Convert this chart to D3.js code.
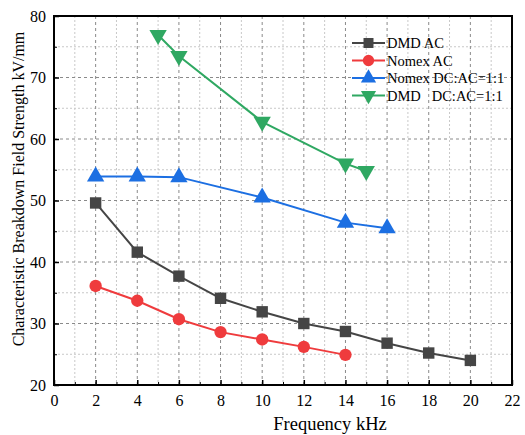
<!DOCTYPE html>
<html>
<head>
<meta charset="utf-8">
<script src="https://cdn.jsdelivr.net/npm/d3@7"></script>
<style>
  body { margin: 0; background: #fff; }
  text { font-family: "Liberation Serif", "Times New Roman", serif; fill: #000; }
</style>
</head>
<body>
<svg id="chart" width="525" height="435"></svg>
<script>
// data
var freqDmdAc = [2, 4, 6, 8, 10, 12, 14, 16, 18, 20];
var dmdAc = [49.6, 41.6, 37.7, 34.1, 31.9, 30.0, 28.7, 26.8, 25.2, 24.0];

var freqNomexAc = [2, 4, 6, 8, 10, 12, 14];
var nomexAc = [36.1, 33.7, 30.7, 28.6, 27.4, 26.2, 24.9];

var freqNomexDc = [2, 4, 6, 10, 14, 16];
var nomexDc = [53.9, 53.9, 53.8, 50.5, 46.4, 45.5];

var freqDmdDc = [5, 6, 10, 14, 15];
var dmdDc = [76.9, 73.5, 62.8, 56.0, 54.8];

var seriesNames = ["DMD AC", "Nomex AC", "Nomex DC:AC=1:1", "DMD   DC:AC=1:1"];
var xTicks = [0, 2, 4, 6, 8, 10, 12, 14, 16, 18, 20, 22];
var yTicks = [20, 30, 40, 50, 60, 70, 80];

var series = [
  { name: seriesNames[0], xs: freqDmdAc, ys: dmdAc, color: "#454545", sym: d3.symbolSquare, rot: 0 },
  { name: seriesNames[1], xs: freqNomexAc, ys: nomexAc, color: "#ef3b3d", sym: d3.symbolCircle, rot: 0 },
  { name: seriesNames[2], xs: freqNomexDc, ys: nomexDc, color: "#1c6fe2", sym: d3.symbolTriangle, rot: 0 },
  { name: seriesNames[3], xs: freqDmdDc, ys: dmdDc, color: "#2fa862", sym: d3.symbolTriangle, rot: 180 }
];

var svg = d3.select("#chart");
var pLeft = 54, pRight = 512, pTop = 16, pBottom = 385;

var x = d3.scaleLinear().domain([0, 22]).range([pLeft, pRight]);
var y = d3.scaleLinear().domain([20, 80]).range([pBottom, pTop]);

var grid = svg.append("g");
// minor grid
d3.range(1, 22, 2).forEach(function(v){
  grid.append("line").attr("x1", x(v)).attr("x2", x(v)).attr("y1", pTop).attr("y2", pBottom)
    .attr("stroke", "#c8c8c8").attr("stroke-dasharray", "2,2");
});
d3.range(25, 80, 10).forEach(function(v){
  grid.append("line").attr("y1", y(v)).attr("y2", y(v)).attr("x1", pLeft).attr("x2", pRight)
    .attr("stroke", "#c8c8c8").attr("stroke-dasharray", "2,2");
});
// major grid
xTicks.slice(1, -1).forEach(function(v){
  grid.append("line").attr("x1", x(v)).attr("x2", x(v)).attr("y1", pTop).attr("y2", pBottom)
    .attr("stroke", "#8a8a8a").attr("stroke-dasharray", "3,3");
});
yTicks.slice(1, -1).forEach(function(v){
  grid.append("line").attr("y1", y(v)).attr("y2", y(v)).attr("x1", pLeft).attr("x2", pRight)
    .attr("stroke", "#8a8a8a").attr("stroke-dasharray", "3,3");
});

// axes with inward ticks
var xAxis = d3.axisBottom(x).tickValues(xTicks).tickSize(-5).tickPadding(10).tickFormat(d3.format("d"));
var gx = svg.append("g").attr("transform", "translate(0," + pBottom + ")").call(xAxis);
gx.select(".domain").remove();
gx.selectAll("text").attr("font-size", 16);
gx.selectAll(".tick line").attr("stroke-width", 1.5);
var xMinor = d3.axisBottom(x).tickValues(d3.range(1, 22, 2)).tickSize(-3).tickFormat("");
var gxm = svg.append("g").attr("transform", "translate(0," + pBottom + ")").call(xMinor);
gxm.select(".domain").remove();

var yAxis = d3.axisLeft(y).tickValues(yTicks).tickSize(-5).tickPadding(8);
var gy = svg.append("g").attr("transform", "translate(" + pLeft + ",0)").call(yAxis);
gy.select(".domain").remove();
gy.selectAll("text").attr("font-size", 16);
gy.selectAll(".tick line").attr("stroke-width", 1.5);
var yMinor = d3.axisLeft(y).tickValues(d3.range(25, 80, 10)).tickSize(-3).tickFormat("");
var gym = svg.append("g").attr("transform", "translate(" + pLeft + ",0)").call(yMinor);
gym.select(".domain").remove();

// frame
svg.append("rect").attr("x", pLeft).attr("y", pTop).attr("width", pRight - pLeft).attr("height", pBottom - pTop)
  .attr("fill", "none").attr("stroke", "#000").attr("stroke-width", 2);

// lines and markers
var line = d3.line().x(function(d){ return x(d[0]); }).y(function(d){ return y(d[1]); });
series.forEach(function(s){
  var pts = s.xs.map(function(v, i){ return [v, s.ys[i]]; });
  svg.append("path").datum(pts).attr("d", line).attr("fill", "none")
    .attr("stroke", s.color).attr("stroke-width", 2);
  svg.selectAll(null).data(pts).enter().append("path")
    .attr("d", d3.symbol().type(s.sym).size(s.sym === d3.symbolCircle ? 120 : 130))
    .attr("transform", function(d){ return "translate(" + x(d[0]) + "," + y(d[1]) + ") rotate(" + s.rot + ")"; })
    .attr("fill", s.color);
});

// legend
var legend = svg.append("g").attr("transform", "translate(352,43)");
series.forEach(function(s, i){
  var g = legend.append("g").attr("transform", "translate(0," + (i * 17.5) + ")");
  g.append("line").attr("x1", 0).attr("x2", 33).attr("stroke", s.color).attr("stroke-width", 2);
  g.append("path").attr("d", d3.symbol().type(s.sym).size(100)())
    .attr("transform", "translate(16.5,0) rotate(" + s.rot + ")").attr("fill", s.color);
  g.append("text").attr("x", 35).attr("y", 5).attr("font-size", 14.5).style("white-space", "pre")
    .attr("xml:space", "preserve").text(s.name);
});

// titles
svg.append("text").attr("x", 330).attr("y", 430).attr("text-anchor", "middle")
  .attr("font-size", 18.5).text("Frequency kHz");
svg.append("text").attr("transform", "translate(24,189) rotate(-90)").attr("text-anchor", "middle")
  .attr("font-size", 16).text("Characteristic Breakdown Field Strength kV/mm");
</script>
</body>
</html>
